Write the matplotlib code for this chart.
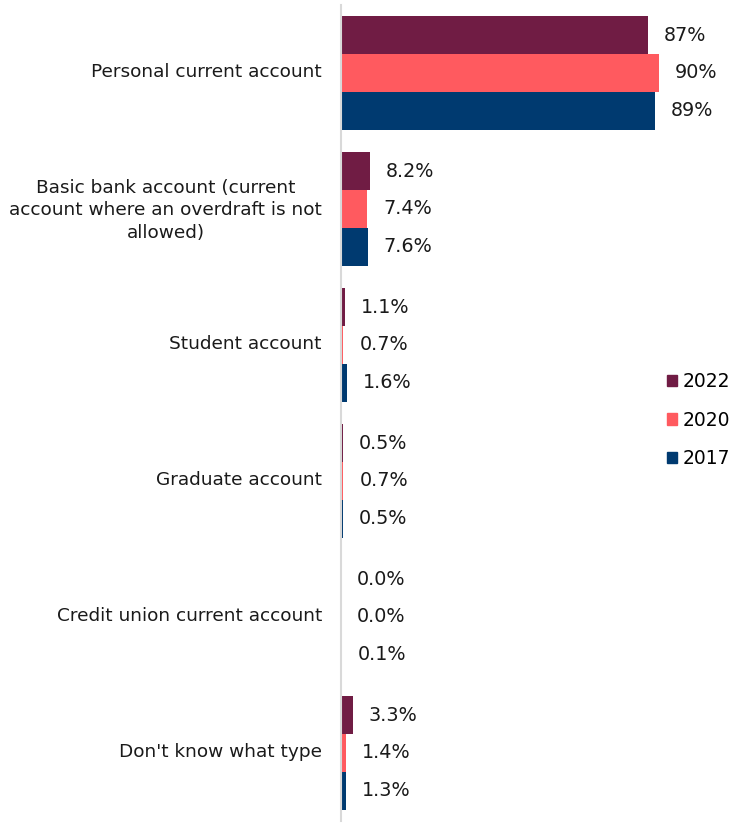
import numpy as np
import matplotlib.pyplot as plt
import matplotlib.transforms as mtransforms
from matplotlib.patches import Patch

categories = [
    "Personal current account",
    "Basic bank account (current\naccount where an overdraft is not\nallowed)",
    "Student account",
    "Graduate account",
    "Credit union current account",
    "Don't know what type",
]
years = ["2022", "2020", "2017"]
share_2022 = [87, 8.2, 1.1, 0.5, 0.0, 3.3]
share_2020 = [90, 7.4, 0.7, 0.7, 0.0, 1.4]
share_2017 = [89, 7.6, 1.6, 0.5, 0.1, 1.3]
colors = ["#701C44", "#FF5A5F", "#003A70"]

plt.rcParams['font.family'] = ['DejaVu Sans']

W, H = 749, 832
fig = plt.figure(figsize=(W / 100, H / 100), dpi=100)
ax = fig.add_axes([341 / W, 1 - 821 / H, (660 - 341) / W, 816 / H])

y = np.arange(len(categories))
bar_h = 0.277
series = [share_2022, share_2020, share_2017]

def fmt(v):
    return f"{v:.0f}%" if v >= 10 else f"{v:.1f}%"

for i, (vals, col, yr) in enumerate(zip(series, colors, years)):
    pos = y + (i - 1) * bar_h
    ax.barh(pos, vals, height=bar_h, color=col, label=yr)
    for p, v in zip(pos, vals):
        ax.annotate(fmt(v), (v, p), xytext=(16, 0), textcoords='offset pixels',
                    ha='left', va='center', fontsize=13.8, color='#1a1a1a',
                    annotation_clip=False)

ax.set_ylim(len(categories) - 0.5, -0.5)
ax.set_xlim(0, (660 - 341) / 3.53)
ax.set_yticks(y)
ax.set_yticklabels(categories, multialignment='center', linespacing=1.32)
ax.tick_params(axis='y', length=0, pad=13.7, labelsize=13.3, labelcolor='#1a1a1a')
# nudge category labels up a little
shift = mtransforms.ScaledTranslation(0, 3 / 100, fig.dpi_scale_trans)
for lbl in ax.get_yticklabels():
    lbl.set_transform(lbl.get_transform() + shift)
ax.set_xticks([])
for side in ['top', 'right', 'bottom']:
    ax.spines[side].set_visible(False)
ax.spines['left'].set_color('#D9D9D9')
ax.spines['left'].set_linewidth(1.5)

handles = [Patch(color=c, label=l) for c, l in zip(colors, years)]
fig.legend(handles=handles, loc='center left', bbox_to_anchor=(667 / W, 1 - 420 / H),
           frameon=False, handlelength=0.55, handleheight=0.55, handletextpad=0.3,
           labelspacing=1.05, fontsize=13.5, borderaxespad=0, borderpad=0)

fig.savefig("out.png", dpi=100)
